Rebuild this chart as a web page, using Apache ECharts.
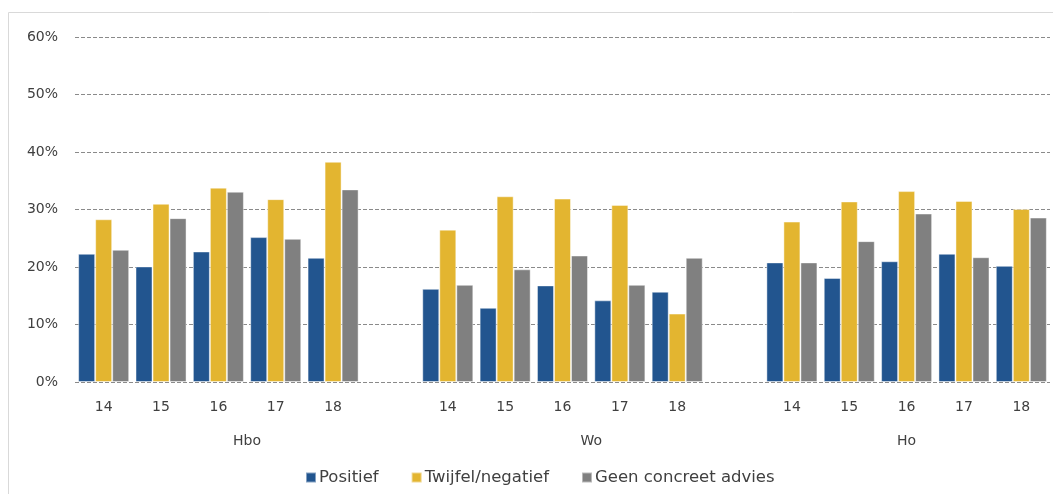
<!DOCTYPE html>
<html>
<head>
<meta charset="utf-8">
<script src="https://cdn.jsdelivr.net/npm/echarts@6/dist/echarts.min.js"></script>
<style>html,body{margin:0;padding:0;background:#fff}#c{width:1053px;height:494px}</style>
</head>
<body>
<div id="c"></div>
<script>
// categories: year labels with one blank slot after each group (Hbo, Wo, Ho)
const years = ['14','15','16','17','18','','14','15','16','17','18','','14','15','16','17','18'];
const groups = ['Hbo','Wo','Ho'];
const groupCenters = [3, 9, 14.5]; // position in category units for group labels
const seriesNames = ['Positief','Twijfel/negatief','Geen concreet advies'];
const positief = [22.3,20.1,22.7,25.2,21.6,null,16.2,12.9,16.8,14.2,15.7,null,20.8,18.1,21.0,22.3,20.2];
const twijfel  = [28.3,31.0,33.8,31.8,38.3,null,26.5,32.3,31.9,30.8,11.9,null,27.9,31.4,33.2,31.5,30.1];
const geen     = [23.0,28.5,33.1,24.9,33.5,null,16.9,19.6,22.0,16.9,21.6,null,20.8,24.5,29.3,21.7,28.6];
const colors = ['#22558f','#e3b530','#808080'];

const chart = echarts.init(document.getElementById('c'), null, {renderer:'canvas'});
const font = 'DejaVu Sans';
chart.setOption({
  animation: false,
  color: colors,
  graphic: [{
    type: 'rect', shape: {x: 8.5, y: 12.5, width: 1100, height: 600},
    style: {fill: 'none', stroke: '#d9d9d9', lineWidth: 1}, silent: true, z: -10
  }],
  legend: {
    bottom: 3, left: 300,
    itemWidth: 10, itemHeight: 10, itemGap: 32,
    icon: 'rect',
    textStyle: {fontFamily: font, fontSize: 16.5, color: '#404040', padding: [0,0,0,-2]},
    data: seriesNames
  },
  grid: {left: 75, right: 3, top: 37, bottom: 112, containLabel: false},
  xAxis: [{
    type: 'category', data: years,
    axisLine: {show: false}, axisTick: {show: false},
    axisLabel: {fontFamily: font, fontSize: 14, color: '#404040', margin: 18, interval: 0}
  }, {
    type: 'value', min: 0, max: years.length, interval: 0.5, position: 'bottom',
    axisLine: {show: false}, axisTick: {show: false}, splitLine: {show: false},
    axisLabel: {
      fontFamily: font, fontSize: 14, color: '#404040', margin: 52,
      showMinLabel: true, showMaxLabel: true,
      formatter: v => { const i = groupCenters.indexOf(v); return i >= 0 ? groups[i] : ''; }
    }
  }],
  yAxis: {
    type: 'value', min: 0, max: 60, interval: 10,
    axisLine: {show: false}, axisTick: {show: false},
    axisLabel: {fontFamily: font, fontSize: 14, color: '#404040', margin: 17, formatter: '{value}%'},
    splitLine: {lineStyle: {color: '#8a8a8a', type: [4, 2], width: 1}}
  },
  series: [
    {name: seriesNames[0], type: 'bar', data: positief, barGap: '0%', barCategoryGap: '11%',
     itemStyle: {borderColor: 'rgba(255,255,255,0.45)', borderWidth: 1}},
    {name: seriesNames[1], type: 'bar', data: twijfel,
     itemStyle: {borderColor: 'rgba(255,255,255,0.45)', borderWidth: 1}},
    {name: seriesNames[2], type: 'bar', data: geen,
     itemStyle: {borderColor: 'rgba(255,255,255,0.45)', borderWidth: 1}}
  ]
});
</script>
</body>
</html>
